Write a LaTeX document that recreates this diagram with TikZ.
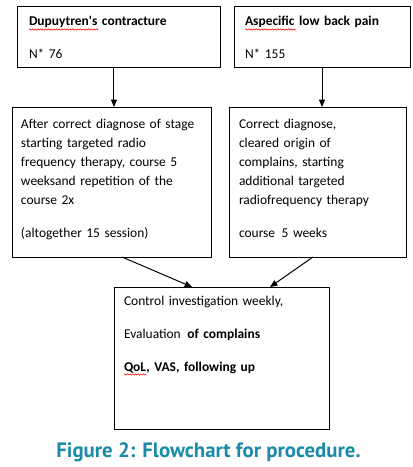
\documentclass[tikz,border=0pt]{standalone}
\usepackage{fontspec}
\setmainfont{Carlito}
\newfontfamily\capfont{PT Sans}
\usetikzlibrary{arrows.meta,decorations.pathmorphing}

\definecolor{figteal}{HTML}{1A8BA6}

\tikzset{
	flowbox/.style={draw, line width=0.75pt, anchor=north west, align=left,
		inner ysep=0pt, outer sep=0pt,
		font=\fontsize{10.1pt}{14.25pt}\selectfont},
	flowarr/.style={-{Triangle[length=5.5pt,width=4.5pt]}, line width=0.75pt},
	spell/.style={red, line width=0.4pt, decorate,
		decoration={snake, amplitude=0.5pt, segment length=2pt}}
}

\begin{document}
\begin{tikzpicture}[x=0.75pt, y=-0.75pt]
\useasboundingbox (0,0) rectangle (413,467);

% offsets of the arrow ends (pt)
\pgfmathsetmacro{\offA}{-3.4}
\pgfmathsetmacro{\offB}{7.9}
\pgfmathsetmacro{\offC}{-22.1}
\pgfmathsetmacro{\offD}{-3.4}
\pgfmathsetmacro{\offE}{36.4}

% top row
\node[flowbox, inner xsep=9pt, text width=134.25pt, text height=14.25pt, text depth=31.5pt]
	(dup) at (17,7) {\textbf{Dupuytren\textquotesingle s contracture}\\[10.5pt]N* 76};
\node[flowbox, inner xsep=8.25pt, text width=115.5pt, text height=14.25pt, text depth=31.5pt]
	(lbp) at (234,7) {\textbf{Aspecific low back pain}\\[10.5pt]N* 155};

% therapy row
\node[flowbox, inner xsep=6.75pt, text width=135.75pt, text height=15.75pt, text depth=96.75pt]
	(after) at (12,107) {After correct diagnose of stage\\
	starting targeted radio\\
	frequency therapy, course 5\\
	weeksand repetition of the\\
	course 2x\\[10.5pt]
	(altogether 15 session)};
\node[flowbox, inner xsep=7.5pt, text width=117.75pt, text height=15.75pt, text depth=96.75pt]
	(corr) at (229,107) {Correct diagnose,\\
	cleared origin of\\
	complains, starting\\
	additional targeted\\
	radiofrequency therapy\\[10.5pt]
	course\hspace{0.15em} 5 weeks};

% control box
\node[flowbox, inner xsep=7.5pt, text width=146.25pt, text height=13.5pt, text depth=93pt]
	(ctrl) at (114,287) {Control investigation weekly,\\[10.5pt]
	Evaluation\hspace{0.15em} \textbf{of complains}\\[10.5pt]
	\textbf{QoL, VAS, following up}};

% arrows
\draw[flowarr] ([xshift=\offA pt]dup.south) -- ([xshift=\offA pt]dup.south |- after.north);
\draw[flowarr] (lbp.south) -- (lbp.south |- corr.north);
\draw[flowarr] ([xshift=\offB pt]after.south) -- ([xshift=\offC pt]ctrl.north);
\draw[flowarr] ([xshift=\offD pt]corr.south) -- ([xshift=\offE pt]ctrl.north);

% spell check marks
\draw[spell] (29,29.5) -- (98,29.5);
\draw[spell] (245,29.5) -- (296,29.5);
\draw[spell] (124,374.5) -- (146,374.5);

% caption
\node[font=\capfont\bfseries\fontsize{15.6pt}{18pt}\selectfont, text=figteal, anchor=base]
	(cap) at (208.5,457) {Figure 2: Flowchart for procedure.};
\end{tikzpicture}
\end{document}
